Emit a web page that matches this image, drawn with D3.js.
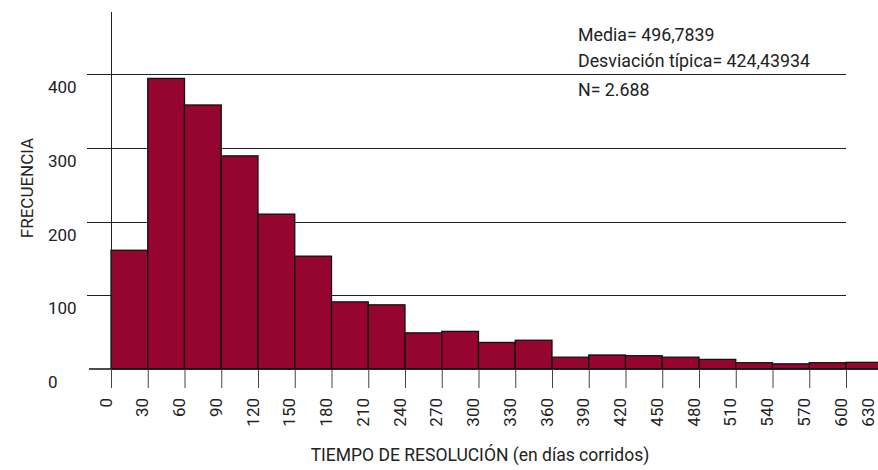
<!DOCTYPE html>
<html>
<head>
<meta charset="utf-8">
<script src="https://cdn.jsdelivr.net/npm/d3@7"></script>
<style>
  body { margin: 0; background: #fff; }
  svg text { font-family: Roboto, "Noto Sans", sans-serif; fill: #222; }
</style>
</head>
<body>
<svg id="chart" width="878" height="470"></svg>
<script>
// bins of 30 days, frequencies
var binStarts = [0, 30, 60, 90, 120, 150, 180, 210, 240, 270, 300, 330, 360, 390, 420, 450, 480, 510, 540, 570, 600, 630];
var frequencies = [161, 394, 358, 289, 210, 153, 91, 87, 49, 51, 36, 39, 16, 19, 18, 16, 13, 8.5, 7, 8.5, 9, 9.5];
var binWidth = 30;
var xTicks = [0, 30, 60, 90, 120, 150, 180, 210, 240, 270, 300, 330, 360, 390, 420, 450, 480, 510, 540, 570, 600, 630];
var yTicks = [0, 100, 200, 300, 400];
var statLines = ["Media= 496,7839", "Desviación típica= 424,43934", "N= 2.688"];

var svg = d3.select("#chart");
var W = 878;

var x = d3.scaleLinear().domain([0, 630]).range([111, 882.75]);
var y = d3.scaleLinear().domain([0, 400]).range([369, 74]);

// horizontal grid lines
svg.append("g").selectAll("line.grid")
  .data(yTicks.filter(d => d > 0))
  .enter().append("line")
  .attr("class", "grid")
  .attr("x1", 87).attr("x2", 846)
  .attr("y1", d => Math.round(y(d)) + 0.5)
  .attr("y2", d => Math.round(y(d)) + 0.5)
  .attr("stroke", "#222").attr("stroke-width", 1);

// bars
svg.append("g").selectAll("rect")
  .data(binStarts)
  .enter().append("rect")
  .attr("x", (d) => x(d))
  .attr("width", d => x(d + binWidth) - x(d))
  .attr("y", (d, i) => y(frequencies[i]))
  .attr("height", (d, i) => y(0) - y(frequencies[i]))
  .attr("fill", "#95052f")
  .attr("stroke", "#111")
  .attr("stroke-width", 1.3);

// baseline
svg.append("line")
  .attr("x1", 89).attr("x2", W)
  .attr("y1", y(0)).attr("y2", y(0))
  .attr("stroke", "#111").attr("stroke-width", 1.3);

// y axis line
svg.append("line")
  .attr("x1", 111.5).attr("x2", 111.5)
  .attr("y1", 12).attr("y2", 387)
  .attr("stroke", "#222").attr("stroke-width", 1);

// y tick labels (sit under their grid lines)
svg.append("g").selectAll("text")
  .data(yTicks)
  .enter().append("text")
  .attr("x", 48)
  .attr("y", d => y(d) + 19)
  .style("font-size", "17px")
  .text(d => d);

// x axis
var xAxis = svg.append("g")
  .attr("transform", "translate(0," + y(0) + ")")
  .call(d3.axisBottom(x).tickValues(xTicks).tickSize(19).tickFormat(d3.format("d")));
xAxis.select(".domain").remove();
xAxis.selectAll(".tick line").attr("stroke", "#444");
xAxis.selectAll(".tick text")
  .attr("transform", "rotate(-90)")
  .attr("text-anchor", "end")
  .attr("x", -29)
  // keep the last label inside the window
  .attr("y", d => Math.min(0, W - 5 - x(d)))
  .attr("dy", 0)
  .style("font-size", "17px")
  .style("font-family", "Roboto, sans-serif")
  .attr("fill", "#222");

// axis titles
svg.append("text")
  .attr("x", 480).attr("y", 461)
  .attr("text-anchor", "middle")
  .style("font-size", "17.5px")
  .text("TIEMPO DE RESOLUCIÓN (en días corridos)");

svg.append("text")
  .attr("transform", "translate(33,188) rotate(-90)")
  .attr("text-anchor", "middle")
  .style("font-size", "17px")
  .text("FRECUENCIA");

// stats box
svg.append("g").selectAll("text")
  .data(statLines)
  .enter().append("text")
  .attr("x", 578)
  .attr("y", (d, i) => [41, 67, 96][i])
  .style("font-size", "17.8px")
  .text(d => d);
</script>
</body>
</html>
